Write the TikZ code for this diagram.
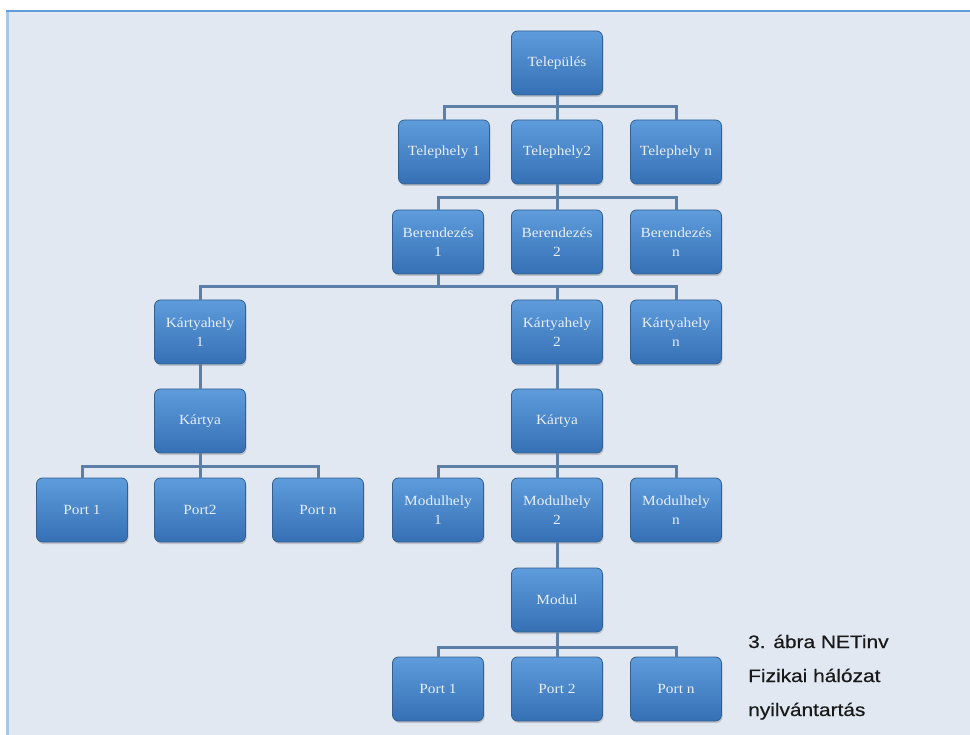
\documentclass[tikz,border=0pt]{standalone}
\usepackage{fontspec}
\setmainfont{Liberation Serif}
\newfontfamily\boxfont[FakeStretch=1.1]{Liberation Serif}
\newfontfamily\capfont[FakeStretch=1.16,FakeBold=0.5]{Liberation Sans}
\usetikzlibrary{shadows}
\definecolor{bgc}{HTML}{E1E8F1}
\definecolor{framec}{HTML}{5F9BD9}
\definecolor{framel}{HTML}{A9C6E8}
\definecolor{boxtop}{HTML}{5E9CDC}
\definecolor{boxbot}{HTML}{3570B4}
\definecolor{boxedge}{HTML}{34608F}
\definecolor{boxtext}{HTML}{E6EEF8}
\definecolor{connc}{HTML}{5C7FA8}
\begin{document}
\begin{tikzpicture}[x=1pt,y=-1pt,
  box/.style={rectangle, rounded corners=6pt, minimum width=91pt, minimum height=64pt,
    inner sep=2pt, top color=boxtop, bottom color=boxbot, draw=boxedge, line width=0.8pt,
    text=boxtext, font=\boxfont\fontsize{14}{19}\selectfont, align=center,
    drop shadow={shadow xshift=1pt, shadow yshift=-2pt, opacity=0.35}},
  conn/.style={draw=connc, line width=3pt},
  captxt/.style={anchor=base west, inner sep=0pt, text=black!90, font=\capfont\fontsize{18}{22}\selectfont}]
\useasboundingbox (0,0) rectangle (970,735);
\fill[white] (0,0) rectangle (970,735);
\fill[bgc] (6,10) rectangle (970,735);
\draw[framel, line width=3pt] (7.5,10) -- (7.5,735);
\draw[framec, line width=2pt] (6,11) -- (970,11);

% nodes
\node[box] (tel) at (557,63) {Település};
\node[box] (t1) at (444,152) {Telephely 1};
\node[box] (t2) at (557,152) {Telephely2};
\node[box] (tn) at (676,152) {Telephely n};
\node[box] (b1) at (438,242) {Berendezés\\1};
\node[box] (b2) at (557,242) {Berendezés\\2};
\node[box] (bn) at (676,242) {Berendezés\\n};
\node[box] (k1) at (200,332) {Kártyahely\\1};
\node[box] (k2) at (557,332) {Kártyahely\\2};
\node[box] (kn) at (676,332) {Kártyahely\\n};
\node[box] (ka1) at (200,421) {Kártya};
\node[box] (ka2) at (557,421) {Kártya};
\node[box] (p1) at (82,510) {Port 1};
\node[box] (p2) at (200,510) {Port2};
\node[box] (pn) at (318,510) {Port n};
\node[box] (m1) at (438,510) {Modulhely\\1};
\node[box] (m2) at (557,510) {Modulhely\\2};
\node[box] (mn) at (676,510) {Modulhely\\n};
\node[box] (mod) at (557,600) {Modul};
\node[box] (q1) at (438,689) {Port 1};
\node[box] (q2) at (557,689) {Port 2};
\node[box] (qn) at (676,689) {Port n};

% connectors
\coordinate (j1) at (557,107);
\coordinate (j2) at (557,198);
\coordinate (j3) at (438,287);
\coordinate (j4) at (200,466);
\coordinate (j5) at (557,466);
\coordinate (j6) at (557,647);
\draw[conn] (tel.south) -- (j1) -- (t2.north);
\draw[conn] (t1.north) |- (j1) -| (tn.north);
\draw[conn] (t2.south) -- (j2) -- (b2.north);
\draw[conn] (b1.north) |- (j2) -| (bn.north);
\draw[conn] (b1.south) -- (j3);
\draw[conn] (k1.north) |- (j3) -| (kn.north);
\draw[conn] (j3) -| (k2.north);
\draw[conn] (k1.south) -- (ka1.north);
\draw[conn] (ka1.south) -- (j4) -- (p2.north);
\draw[conn] (p1.north) |- (j4) -| (pn.north);
\draw[conn] (k2.south) -- (ka2.north);
\draw[conn] (ka2.south) -- (j5) -- (m2.north);
\draw[conn] (m1.north) |- (j5) -| (mn.north);
\draw[conn] (m2.south) -- (mod.north);
\draw[conn] (mod.south) -- (j6) -- (q2.north);
\draw[conn] (q1.north) |- (j6) -| (qn.north);

% caption
\node[captxt] (cap1) at (748,648) {3. ábra NETinv};
\node[captxt] (cap2) at (748,682) {Fizikai hálózat};
\node[captxt] (cap3) at (748,716) {nyilvántartás};
\end{tikzpicture}
\end{document}
